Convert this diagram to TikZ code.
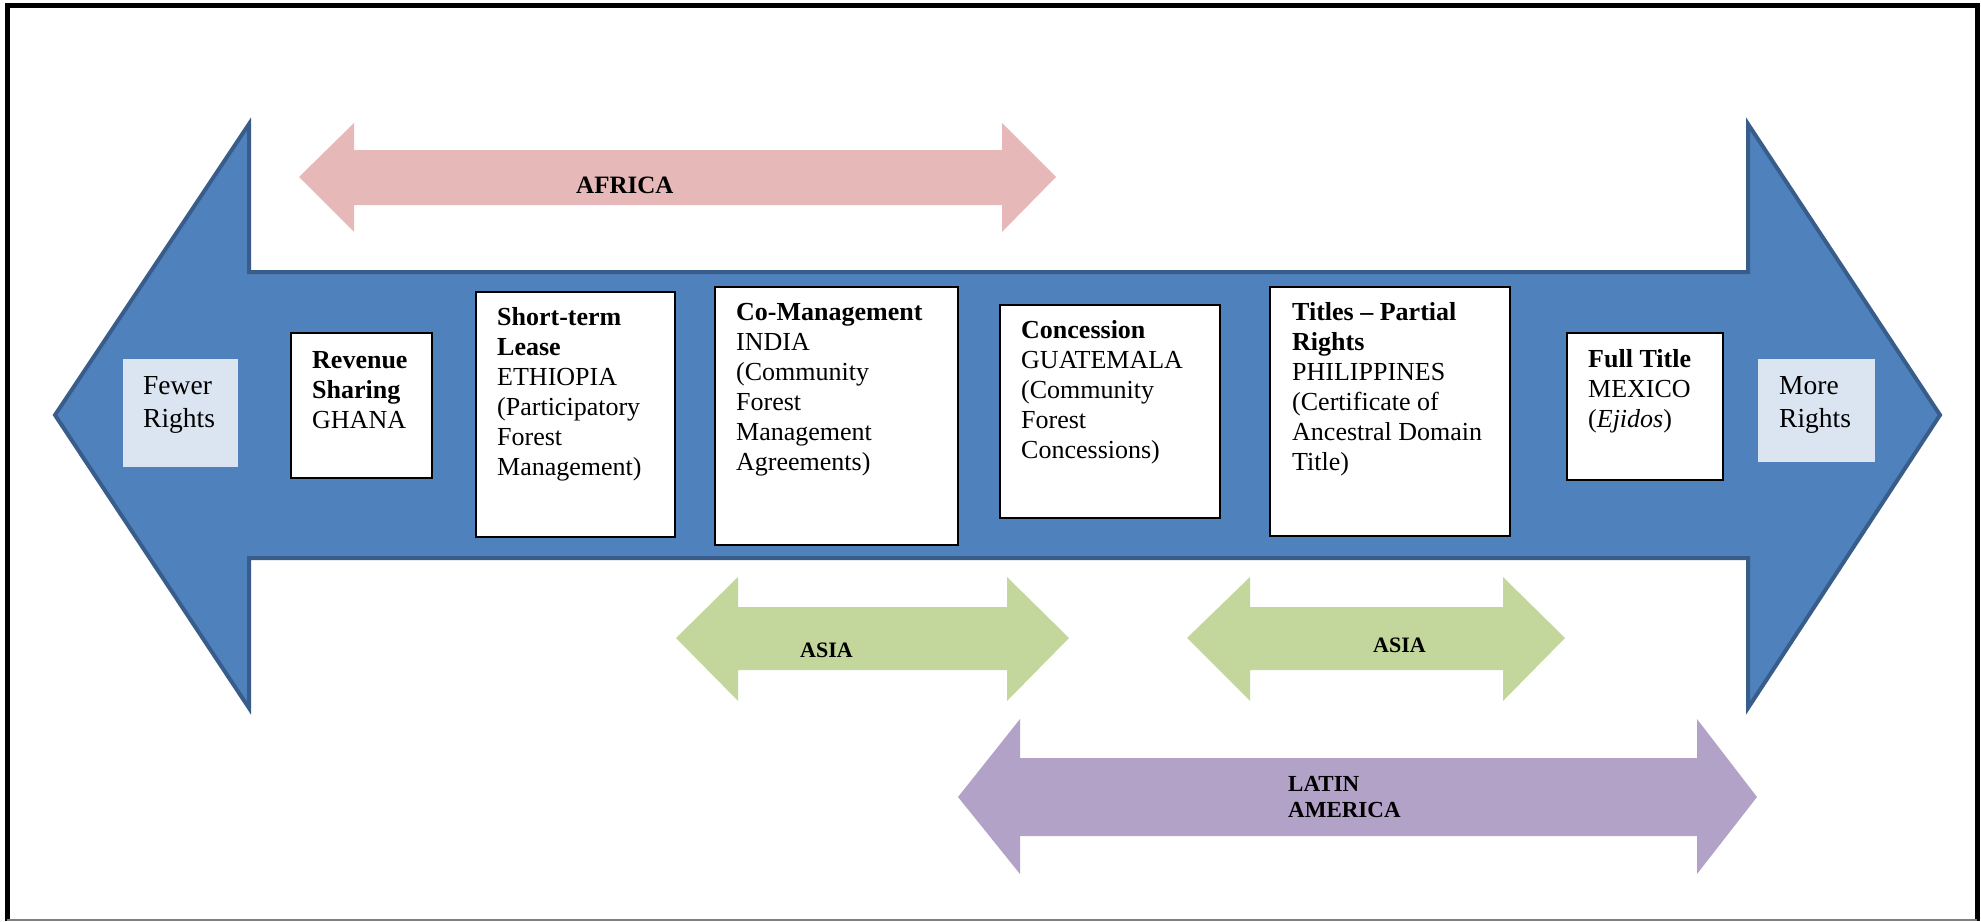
\documentclass[tikz,border=0pt]{standalone}
\usepackage{fontspec}
\setmainfont{Liberation Serif}
\definecolor{bigblue}{HTML}{4F81BD}
\definecolor{bigblueline}{HTML}{385D8A}
\definecolor{afpink}{HTML}{E6B9B8}
\definecolor{asgreen}{HTML}{C3D69B}
\definecolor{lapurple}{HTML}{B3A2C7}
\definecolor{lightbox}{HTML}{DBE5F1}
\tikzset{
  casebox/.style={draw=black, line width=2, fill=white, inner sep=0, minimum width=#1},
  endbox/.style={fill=lightbox, inner sep=0, minimum width=#1},
  boxtext/.style={anchor=north west, inner sep=0, align=left, font={\fontsize{26}{30}\selectfont}},
  endtext/.style={anchor=north west, inner sep=0, align=left, font={\fontsize{27.5}{33}\selectfont}},
  regtext/.style={inner sep=0, align=left, font={\bfseries\fontsize{#1}{26}\selectfont}},
}
\begin{document}
\begin{tikzpicture}[x=1pt,y=-1pt]
\useasboundingbox (0,0) rectangle (1981,921);
% frame
\draw[line width=5] (7,921) -- (7,5) -- (1977,5) -- (1977,921);
\draw[gray, line width=2] (7,920) -- (1977,920);
% big double arrow
\draw[fill=bigblue, draw=bigblueline, line width=4, line join=miter]
  (55,415) -- (249,124) -- (249,272) -- (1748,272) -- (1748,124) -- (1940,415)
  -- (1748,708) -- (1748,558) -- (249,558) -- (249,708) -- cycle;
% Africa arrow
\fill[afpink] (299,177) -- (354,123) -- (354,150) -- (1002,150) -- (1002,123) -- (1056,177)
  -- (1002,232) -- (1002,205) -- (354,205) -- (354,232) -- cycle;
\node[regtext=25, anchor=base west] (africa) at (576,193) {AFRICA};
% Asia arrows
\fill[asgreen] (676,638) -- (738,577) -- (738,607) -- (1007,607) -- (1007,577) -- (1069,638)
  -- (1007,701) -- (1007,670) -- (738,670) -- (738,701) -- cycle;
\node[regtext=22, anchor=base west] (asia1) at (800,657) {ASIA};
\fill[asgreen] (1187,638) -- (1250,577) -- (1250,607) -- (1503,607) -- (1503,577) -- (1565,638)
  -- (1503,701) -- (1503,670) -- (1250,670) -- (1250,701) -- cycle;
\node[regtext=22, anchor=base west] (asia2) at (1373,652) {ASIA};
% Latin America arrow
\fill[lapurple] (958,797) -- (1020,719) -- (1020,758) -- (1697,758) -- (1697,719) -- (1757,797)
  -- (1697,874) -- (1697,836) -- (1020,836) -- (1020,874) -- cycle;
\node[regtext=23, anchor=north west] (latam) at (1288,773) {\strut LATIN\\AMERICA};
% end boxes
\node[endbox=115, minimum height=108] (fewer) at (180.5,413) {};
\node[endtext] (fewert) at (143,371) {\strut Fewer\\Rights};
\node[endbox=117, minimum height=103] (more) at (1816.5,410.5) {};
\node[endtext] (moret) at (1779,371) {\strut More\\Rights};
% case boxes
\node[casebox=141, minimum height=145] (rev) at (361.5,405.5) {};
\node[boxtext] (revt) at (312,347) {\strut\textbf{Revenue}\\\textbf{Sharing}\\GHANA};
\node[casebox=199, minimum height=245] (lease) at (575.5,414.5) {};
\node[boxtext] (leaset) at (497,304) {\strut\textbf{Short-term}\\\textbf{Lease}\\ETHIOPIA\\(Participatory\\Forest\\Management)};
\node[casebox=243, minimum height=258] (coman) at (836.5,416) {};
\node[boxtext] (comant) at (736,299) {\strut\textbf{Co-Management}\\INDIA\\(Community\\Forest\\Management\\Agreements)};
\node[casebox=220, minimum height=213] (conc) at (1110,411.5) {};
\node[boxtext] (conct) at (1021,317) {\strut\textbf{Concession}\\GUATEMALA\\(Community\\Forest\\Concessions)};
\node[casebox=240, minimum height=249] (titles) at (1390,411.5) {};
\node[boxtext] (titlest) at (1292,299) {\strut\textbf{Titles -- Partial}\\\textbf{Rights}\\PHILIPPINES\\(Certificate of\\Ancestral Domain\\Title)};
\node[casebox=156, minimum height=147] (full) at (1645,406.5) {};
\node[boxtext] (fullt) at (1588,346) {\strut\textbf{Full Title}\\MEXICO\\(\textit{Ejidos})};
\end{tikzpicture}
\end{document}
